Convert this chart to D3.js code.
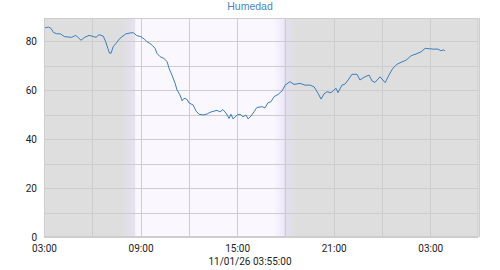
<!DOCTYPE html>
<html><head><meta charset="utf-8">
<script src="https://cdn.jsdelivr.net/npm/d3@7"></script>
<style>body{margin:0;background:#fff}svg{display:block}</style>
</head><body>
<svg id="c" width="500" height="270"></svg>
<script>
const title = "Humedad";
const footer = "11/01/26 03:55:00";
const times = ["2026-01-10T03:04","2026-01-10T03:16","2026-01-10T03:26","2026-01-10T03:35","2026-01-10T03:47","2026-01-10T04:02","2026-01-10T04:16","2026-01-10T04:43","2026-01-10T04:58","2026-01-10T05:06","2026-01-10T05:18","2026-01-10T05:30","2026-01-10T05:48","2026-01-10T06:02","2026-01-10T06:14","2026-01-10T06:25","2026-01-10T06:41","2026-01-10T06:50","2026-01-10T06:58","2026-01-10T07:04","2026-01-10T07:10","2026-01-10T07:18","2026-01-10T07:28","2026-01-10T07:43","2026-01-10T08:05","2026-01-10T08:21","2026-01-10T08:33","2026-01-10T08:46","2026-01-10T09:01","2026-01-10T09:14","2026-01-10T09:24","2026-01-10T09:35","2026-01-10T09:45","2026-01-10T09:54","2026-01-10T10:01","2026-01-10T10:13","2026-01-10T10:27","2026-01-10T10:39","2026-01-10T10:46","2026-01-10T10:57","2026-01-10T11:09","2026-01-10T11:16","2026-01-10T11:27","2026-01-10T11:35","2026-01-10T11:42","2026-01-10T11:52","2026-01-10T12:01","2026-01-10T12:16","2026-01-10T12:27","2026-01-10T12:38","2026-01-10T12:53","2026-01-10T13:08","2026-01-10T13:19","2026-01-10T13:34","2026-01-10T13:45","2026-01-10T13:56","2026-01-10T14:07","2026-01-10T14:19","2026-01-10T14:30","2026-01-10T14:37","2026-01-10T14:45","2026-01-10T15:00","2026-01-10T15:11","2026-01-10T15:22","2026-01-10T15:33","2026-01-10T15:41","2026-01-10T15:52","2026-01-10T16:03","2026-01-10T16:14","2026-01-10T16:33","2026-01-10T16:44","2026-01-10T16:55","2026-01-10T17:06","2026-01-10T17:18","2026-01-10T17:33","2026-01-10T17:48","2026-01-10T17:59","2026-01-10T18:17","2026-01-10T18:32","2026-01-10T18:55","2026-01-10T19:13","2026-01-10T19:32","2026-01-10T19:47","2026-01-10T20:02","2026-01-10T20:13","2026-01-10T20:24","2026-01-10T20:35","2026-01-10T20:50","2026-01-10T21:01","2026-01-10T21:09","2026-01-10T21:16","2026-01-10T21:31","2026-01-10T21:42","2026-01-10T21:54","2026-01-10T22:08","2026-01-10T22:27","2026-01-10T22:38","2026-01-10T22:53","2026-01-10T23:12","2026-01-10T23:23","2026-01-10T23:34","2026-01-10T23:53","2026-01-11T00:12","2026-01-11T00:26","2026-01-11T00:41","2026-01-11T00:56","2026-01-11T01:11","2026-01-11T01:30","2026-01-11T01:49","2026-01-11T02:07","2026-01-11T02:26","2026-01-11T02:41","2026-01-11T03:11","2026-01-11T03:29","2026-01-11T03:40","2026-01-11T03:48","2026-01-11T03:55"];
const humidity = [85.4,85.7,85.2,83.5,83.0,82.9,81.8,81.5,82.3,81.6,80.3,81.4,82.3,81.9,81.5,82.6,82.0,79.7,77.0,75.1,75.0,77.7,79.0,81.1,82.9,83.3,83.4,82.2,81.8,80.8,79.7,79.0,78.1,77.0,75.0,73.6,72.9,71.6,68.9,66.1,62.7,60.0,58.0,55.6,56.6,56.3,54.7,53.9,51.4,50.1,49.8,50.2,50.9,51.4,51.7,51.1,52.0,50.5,48.4,50.1,48.2,49.8,50.1,49.1,49.8,48.2,49.4,51.1,52.9,53.2,52.7,54.8,55.2,57.3,58.2,59.7,62.0,63.4,62.3,62.7,62.0,62.0,61.3,58.6,56.3,58.4,59.3,58.9,60.0,60.7,58.9,62.0,62.4,64.1,66.4,66.4,64.1,65.2,66.1,63.7,63.1,65.4,63.0,66.1,68.9,70.5,71.3,72.2,74.0,74.7,75.6,77.0,76.7,76.7,76.0,76.4,76.0];
const xDomain = ["2026-01-10T03:00","2026-01-11T06:00"];
const xTickLabels = ["2026-01-10T03:00","2026-01-10T09:00","2026-01-10T15:00","2026-01-10T21:00","2026-01-11T03:00"];
const yTicks = [0,20,40,60,80];
const yGrid = [10,30,50,70];
const yMax = 89.4;
const sunrise = "2026-01-10T08:40";
const sunset = "2026-01-10T17:55";
const twilightMin = 50;

const parse = d3.timeParse("%Y-%m-%dT%H:%M");
const data = times.map((t,i)=>({t:parse(t), v:humidity[i]}));
const L=44, R=478.5, T=18, B=237;
const svg = d3.select("#c");
const x = d3.scaleTime().domain(xDomain.map(parse)).range([L,R]);
const y = d3.scaleLinear().domain([0,yMax]).range([B,T]);

const defs = svg.append("defs");
const g1 = defs.append("linearGradient").attr("id","dawn").attr("x1","0").attr("x2","1").attr("y1","0").attr("y2","0");
g1.append("stop").attr("offset","0").attr("stop-color","#dedede");
g1.append("stop").attr("offset","1").attr("stop-color","#e6e1f2");
const g2 = defs.append("linearGradient").attr("id","dusk").attr("x1","0").attr("x2","1").attr("y1","0").attr("y2","0");
g2.append("stop").attr("offset","0").attr("stop-color","#e3e0f0");
g2.append("stop").attr("offset","1").attr("stop-color","#dedede");
const g3 = defs.append("linearGradient").attr("id","day").attr("x1","0").attr("x2","1").attr("y1","0").attr("y2","0");
g3.append("stop").attr("offset","0").attr("stop-color","#faf8fe");
g3.append("stop").attr("offset","0.93").attr("stop-color","#faf8fe");
g3.append("stop").attr("offset","1").attr("stop-color","#efe6fb");

const sr = parse(sunrise), ss = parse(sunset);
svg.append("rect").attr("x",L).attr("y",T).attr("width",R-L).attr("height",B-T).attr("fill","#dedede");
svg.append("rect").attr("x",x(d3.timeMinute.offset(sr,-twilightMin))).attr("y",T)
  .attr("width",x(sr)-x(d3.timeMinute.offset(sr,-twilightMin))).attr("height",B-T).attr("fill","url(#dawn)");
svg.append("rect").attr("x",x(sr)).attr("y",T).attr("width",x(ss)-x(sr)).attr("height",B-T).attr("fill","url(#day)");
svg.append("rect").attr("x",x(ss)).attr("y",T).attr("width",x(d3.timeMinute.offset(ss,twilightMin))-x(ss)).attr("height",B-T).attr("fill","url(#dusk)");

// grid
const xGridTicks = x.ticks(d3.timeHour.every(3));
svg.append("g").selectAll("line").data(xGridTicks).join("line")
  .attr("x1",d=>Math.round(x(d))+0.5).attr("x2",d=>Math.round(x(d))+0.5).attr("y1",T).attr("y2",B)
  .attr("stroke","#cdcdcd").attr("stroke-width",1);
svg.append("g").selectAll("line").data(yTicks.concat(yGrid)).join("line")
  .attr("x1",L).attr("x2",R).attr("y1",d=>Math.round(y(d))+0.5).attr("y2",d=>Math.round(y(d))+0.5)
  .attr("stroke","#cdcdcd").attr("stroke-width",1);
svg.append("rect").attr("x",L+0.5).attr("y",T+0.5).attr("width",R-L-1).attr("height",B-T-1)
  .attr("fill","none").attr("stroke","#cdcdcd");

// line
svg.append("path").datum(data)
  .attr("d",d3.line().x(d=>x(d.t)).y(d=>y(d.v)))
  .attr("fill","none").attr("stroke","#3a7dbf").attr("stroke-width",1);

// axes
const yAxis = d3.axisLeft(y).tickValues(yTicks).tickSize(0).tickPadding(7);
const ya = svg.append("g").attr("transform",`translate(${L},0)`).call(yAxis);
ya.select(".domain").remove();
ya.selectAll("text").attr("font-family","Roboto, sans-serif").attr("font-size",10).attr("fill","#222");

const xAxis = d3.axisBottom(x).tickValues(xTickLabels.map(parse)).tickFormat(d3.timeFormat("%H:%M")).tickSize(0).tickPadding(8);
const xa = svg.append("g").attr("transform",`translate(0,${B})`).call(xAxis);
xa.select(".domain").remove();
xa.selectAll("text").attr("font-family","Roboto, sans-serif").attr("font-size",10).attr("fill","#222");

svg.append("text").attr("x",250).attr("y",10).attr("text-anchor","middle")
  .attr("font-family","Liberation Sans, Arial, sans-serif").attr("font-size",10.5).attr("fill","#4a86c0").text(title);
svg.append("text").attr("x",250).attr("y",265).attr("text-anchor","middle")
  .attr("font-family","Roboto, sans-serif").attr("font-size",10).attr("fill","#222").text(footer);
</script>
</body></html>
